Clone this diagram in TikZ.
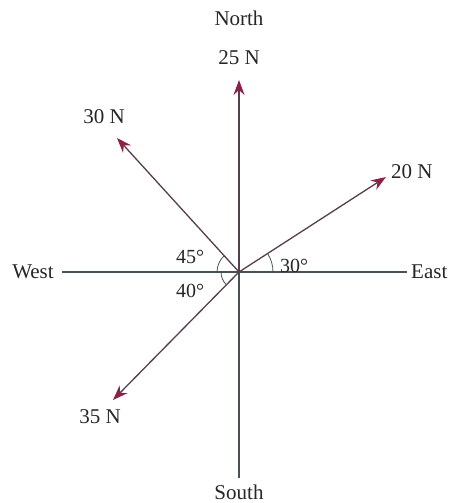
\documentclass[tikz,border=0pt]{standalone}
\usepackage{fontspec}
\setmainfont{Liberation Serif}
\usetikzlibrary{arrows.meta}
\definecolor{axiscol}{RGB}{70,82,88}
\definecolor{forcecol}{RGB}{85,62,78}
\definecolor{headcol}{RGB}{140,32,72}
\begin{document}
\begin{tikzpicture}[x=1pt,y=1pt,
    axis/.style={draw=axiscol,line width=1.1pt},
    force/.style={draw=forcecol,line width=1.3pt,
      -{Stealth[length=15pt,width=11pt,color=headcol]}},
    lbl/.style={font=\fontsize{21}{23}\selectfont,text=black!85,inner sep=2pt},
    anglbl/.style={font=\fontsize{20}{22}\selectfont,text=black!85,inner sep=1pt}]
  \useasboundingbox (0,0) rectangle (460,503);
  \coordinate (O) at (239,231);
  % compass directions
  \node[lbl] (west) at (33,231) {West};
  \node[lbl,anchor=west] (east) at (409,231) {East};
  \node[lbl] (north) at (239,485) {North};
  \node[lbl] (south) at (239,11) {South};
  \coordinate (sEnd) at (239,25);
  \draw[axis] (west.east) ++(6,0) -- ([xshift=-2pt]east.west);
  \draw[axis] (O) -- (sEnd);
  % force tips and labels
  \coordinate (t25) at (239,423);
  \coordinate (t30) at (117,365);
  \coordinate (t20) at (386,326);
  \coordinate (t35) at (113,103);
  \node[lbl] (f25) at (239,445) {25 N};
  \node[lbl] (f30) at (104,386) {30 N};
  \node[lbl,anchor=west] (f20) at (389,331) {20 N};
  \node[lbl] (f35) at (100,86) {35 N};
  \foreach \t in {t25,t30,t20,t35}
    \draw[force] (O) -- (\t);
  % angles
  \draw[axis,line width=0.8pt] (O) ++(180:22) arc (180:132:22);
  \draw[axis,line width=0.8pt] (O) ++(0:34) arc (0:33:34);
  \draw[axis,line width=0.8pt] (O) ++(180:18) arc (180:225:18);
  \node[anglbl] (a45) at (190,246) {45°};
  \node[anglbl] (a30) at (294,237) {30°};
  \node[anglbl] (a40) at (190,212) {40°};
\end{tikzpicture}
\end{document}
